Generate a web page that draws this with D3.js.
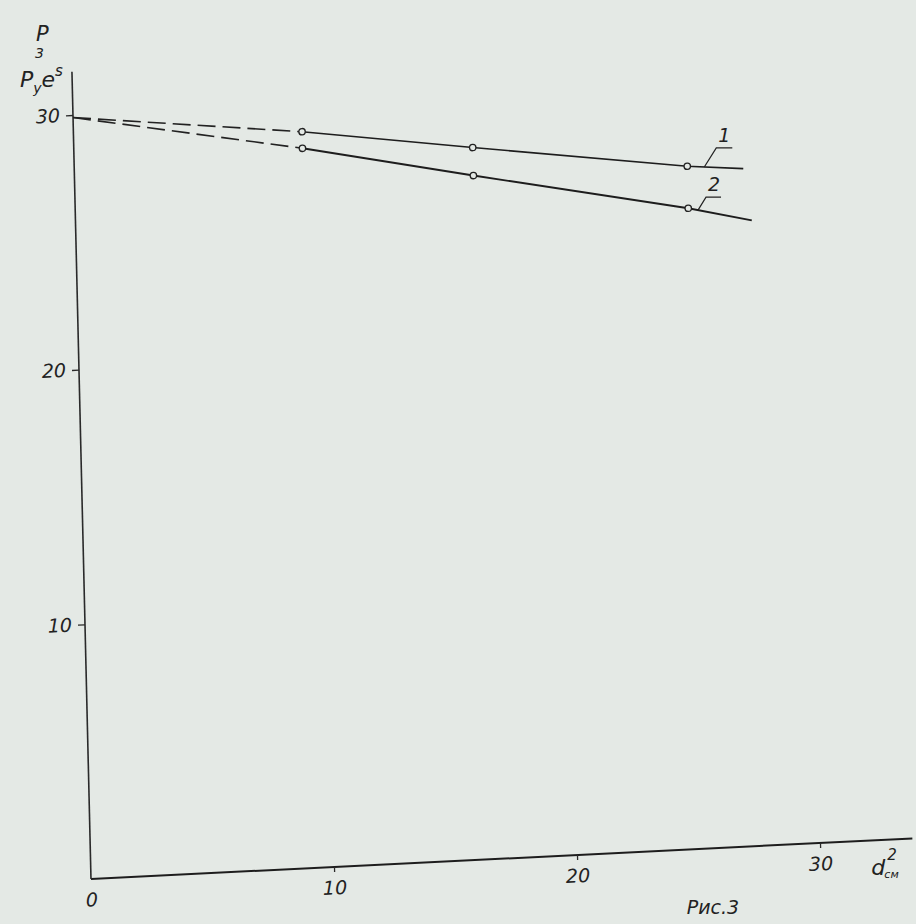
<!DOCTYPE html>
<html>
<head>
<meta charset="utf-8">
<script src="https://cdn.jsdelivr.net/npm/d3@7"></script>
<style>
  html, body { margin: 0; padding: 0; background: #e4e9e5; }
  svg { display: block; }
  .hand { font-family: "DejaVu Sans", "Liberation Sans", sans-serif; font-style: italic; fill: #222; }
</style>
</head>
<body>
<svg id="chart" width="916" height="924"></svg>
<script>
// Axis ticks
const xTicks = [0, 10, 20, 30];
const yTicks = [10, 20, 30];

// Curve 1: d^2 values and P values (first segment is the dashed extrapolation to d = 0)
const curve1X = [0, 9.4, 16.4, 25.2, 27.5];
const curve1Y = [29.9, 28.9, 27.95, 26.8, 26.6];
// Curve 2
const curve2X = [0, 9.4, 16.4, 25.2, 27.8];
const curve2Y = [29.9, 28.25, 26.85, 25.15, 24.55];

// Indices of the measured points drawn as open circles
const markedPoints = [1, 2, 3];
const curveLabels = ["1", "2"];
const leaderAt = [25.9, 25.6];

const svg = d3.select("#chart");

// Hand-drawn frame: axes are slightly sheared on the sheet
const frame = { a: 1, b: -0.0494, c: 0.0236, d: 1, e: 91, f: 879 };
const x = d3.scaleLinear().domain([0, 30]).range([0, 729]);
const y = d3.scaleLinear().domain([0, 30]).range([0, -764]);
const xAxisEnd = 33.8, yAxisEnd = 31.7;

function project(vx, vy) {
  const lx = x(vx), ly = y(vy);
  return [frame.a * lx + frame.c * ly + frame.e, frame.b * lx + frame.d * ly + frame.f];
}

const g = svg.append("g")
  .attr("transform", `matrix(${frame.a},${frame.b},${frame.c},${frame.d},${frame.e},${frame.f})`);

// Axis lines
g.append("line")
  .attr("x1", x(0)).attr("y1", y(0)).attr("x2", x(xAxisEnd)).attr("y2", y(0))
  .attr("stroke", "#1d1d1d").attr("stroke-width", 2);
g.append("line")
  .attr("x1", x(0)).attr("y1", y(0)).attr("x2", x(0)).attr("y2", y(yAxisEnd))
  .attr("stroke", "#2a2a2a").attr("stroke-width", 1.6);

// Ticks and tick labels
const xAxis = g.append("g")
  .call(d3.axisBottom(x).tickValues(xTicks).tickSize(5).tickPadding(9).tickFormat(d3.format("d")));
const yAxis = g.append("g")
  .call(d3.axisLeft(y).tickValues(yTicks).tickSize(7).tickPadding(6).tickFormat(d3.format("d")));
[xAxis, yAxis].forEach(ax => {
  ax.select(".domain").remove();
  ax.selectAll(".tick line").attr("stroke", "#2a2a2a").attr("stroke-width", 1.3);
  ax.selectAll(".tick text")
    .attr("class", "hand")
    .attr("font-size", 19)
    .attr("fill", "#222");
});
xAxis.selectAll(".tick").filter(d => d === 0).select("line").remove();

// Curves
const curves = [
  { xs: curve1X, ys: curve1Y },
  { xs: curve2X, ys: curve2Y }
];
const line = d3.line().x(d => x(d[0])).y(d => y(d[1]));

curves.forEach((c, ci) => {
  const pts = c.xs.map((v, i) => [v, c.ys[i]]);
  // dashed extrapolation towards d = 0
  g.append("path")
    .datum(pts.slice(0, 2))
    .attr("d", line)
    .attr("fill", "none")
    .attr("stroke", "#222")
    .attr("stroke-width", 1.6)
    .attr("stroke-dasharray", "18,7");
  // measured part
  g.append("path")
    .datum(pts.slice(1))
    .attr("d", line)
    .attr("fill", "none")
    .attr("stroke", "#1d1d1d")
    .attr("stroke-width", ci === 0 ? 1.6 : 1.9);
  g.selectAll(null)
    .data(markedPoints.map(i => pts[i]))
    .join("circle")
    .attr("cx", d => x(d[0]))
    .attr("cy", d => y(d[1]))
    .attr("r", 3.2)
    .attr("fill", "#e4e9e5")
    .attr("stroke", "#222")
    .attr("stroke-width", 1.3);
});

// Curve labels with leader strokes
const leaderShape = [
  { up: [12, -19], run: 16, lab: [8, -6] },
  { up: [8, -13], run: 15, lab: [8, -6] }
];
curves.forEach((c, ci) => {
  const interp = d3.scaleLinear().domain(c.xs).range(c.ys);
  const s = project(leaderAt[ci], interp(leaderAt[ci]));
  const sh = leaderShape[ci];
  const k = [s[0] + sh.up[0], s[1] + sh.up[1]];
  svg.append("path")
    .attr("d", `M${s[0]},${s[1]}L${k[0]},${k[1]}L${k[0] + sh.run},${k[1]}`)
    .attr("fill", "none").attr("stroke", "#222").attr("stroke-width", 1.2);
  svg.append("text")
    .attr("class", "hand")
    .attr("x", k[0] + sh.lab[0]).attr("y", k[1] + sh.lab[1])
    .attr("text-anchor", "middle")
    .attr("font-size", 19)
    .text(curveLabels[ci]);
});

// Axis titles: P with "3" written beneath it, then P_y e^s
const yAxisTop = project(0, yAxisEnd);
svg.append("text").attr("class", "hand")
  .attr("x", yAxisTop[0] - 36).attr("y", yAxisTop[1] - 31).attr("font-size", 21).text("P");
svg.append("text").attr("class", "hand")
  .attr("x", yAxisTop[0] - 37).attr("y", yAxisTop[1] - 14).attr("font-size", 14).text("3");

const t2 = svg.append("text").attr("class", "hand")
  .attr("x", yAxisTop[0] - 52).attr("y", yAxisTop[1] + 15).attr("font-size", 22);
t2.append("tspan").text("P");
t2.append("tspan").attr("font-size", 14).attr("dy", 6).text("y");
t2.append("tspan").attr("font-size", 22).attr("dy", -6).text("e");
t2.append("tspan").attr("font-size", 15).attr("dy", -11).text("s");

const xAxisRight = project(xAxisEnd, 0);
svg.append("text").attr("class", "hand")
  .attr("x", xAxisRight[0] - 41).attr("y", xAxisRight[1] + 37).attr("font-size", 22).text("d");
svg.append("text").attr("class", "hand")
  .attr("x", xAxisRight[0] - 25).attr("y", xAxisRight[1] + 22).attr("font-size", 15).text("2");
svg.append("text").attr("class", "hand")
  .attr("x", xAxisRight[0] - 28).attr("y", xAxisRight[1] + 40).attr("font-size", 11).text("см");

// Figure caption
svg.append("text").attr("class", "hand")
  .attr("x", 713).attr("y", 914).attr("text-anchor", "middle")
  .attr("font-size", 19).text("Рис.3");
</script>
</body>
</html>
